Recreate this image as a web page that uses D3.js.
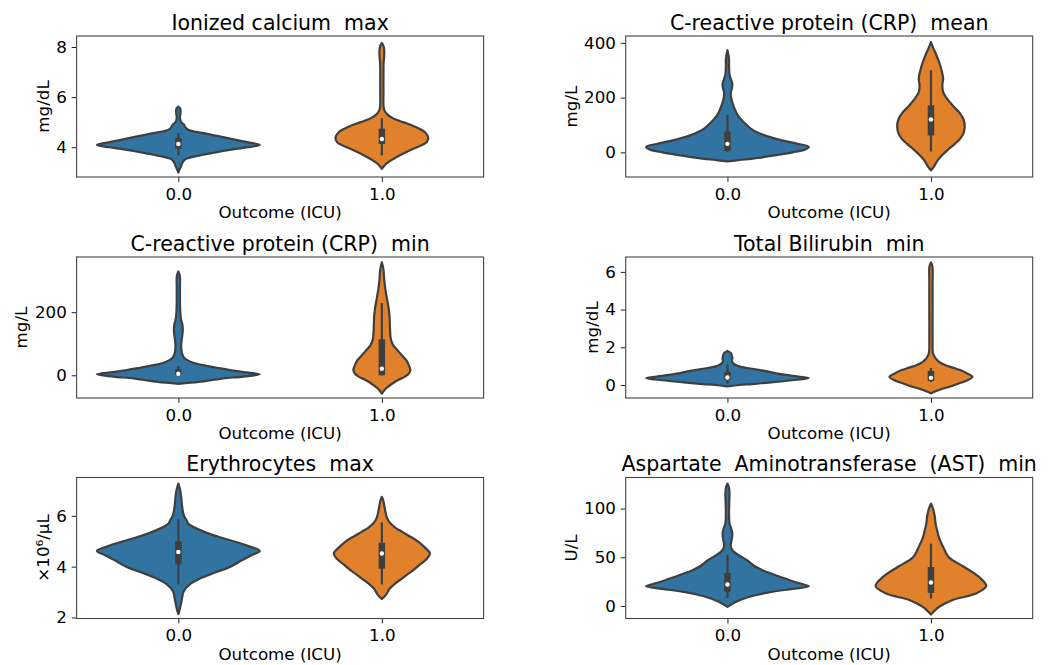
<!DOCTYPE html>
<html>
<head>
<meta charset="utf-8">
<script src="https://cdn.jsdelivr.net/npm/d3@7"></script>
<style>
  body { margin: 0; background: #fff; }
  text { font-family: "DejaVu Sans", sans-serif; fill: #000; }
</style>
</head>
<body>
<div id="chart"></div>
<script>
var width = 1054, height = 665;

// categories on the x axis
var categories = ["0.0", "1.0"];
var xTitle = "Outcome (ICU)";

// one entry per panel, reading order
var titles = ["Ionized calcium  max", "C-reactive protein (CRP)  mean",
              "C-reactive protein (CRP)  min", "Total Bilirubin  min",
              "Erythrocytes  max", "Aspartate  Aminotransferase  (AST)  min"];
var units = ["mg/dL", "mg/L", "mg/L", "mg/dL", "\u00d710\u2076/\u03bcL", "U/L"];
var yTicks = [[4, 6, 8], [0, 200, 400], [0, 200], [0, 2, 4, 6], [2, 4, 6], [0, 50, 100]];
var yLimits = [[2.81, 8.44], [-90, 425], [-72, 375], [-0.69, 6.79], [1.96, 7.51], [-12.9, 131.9]];

// violin outlines: [value, density relative to widest violin of the panel]
var caMax0 = [[2.99,0],[3.15,0.02],[3.25,0.035],[3.38,0.05],[3.51,0.08],[3.64,0.22],[3.78,0.44],[3.91,0.67],[4.0,0.85],[4.09,1.0],
              [4.21,0.83],[4.33,0.65],[4.44,0.49],[4.57,0.29],[4.7,0.12],[4.8,0.085],[4.9,0.07],[5.0,0.035],[5.15,0.02],[5.3,0.024],
              [5.45,0.028],[5.55,0.022],[5.62,0]];
var caMax1 = [[3.14,0],[3.26,0.03],[3.38,0.07],[3.51,0.13],[3.64,0.2],[3.84,0.32],[4.04,0.46],[4.2,0.55],[4.37,0.57],[4.6,0.53],
              [4.83,0.4],[5.0,0.26],[5.15,0.14],[5.3,0.07],[5.45,0.035],[5.6,0.022],[6.2,0.02],[7.0,0.02],[7.4,0.022],[7.6,0.028],
              [7.8,0.03],[7.98,0.025],[8.1,0.012],[8.16,0]];
var crpMean0 = [[-33,0],[-28,0.15],[-20,0.38],[-10,0.6],[0,0.8],[10,0.95],[20,1.0],[32,0.85],[44,0.67],[62,0.46],[86,0.29],
                [110,0.2],[134,0.13],[165,0.08],[194,0.05],[215,0.04],[235,0.055],[250,0.06],[265,0.045],[285,0.025],[313,0.02],
                [345,0.018],[373,0]];
var crpMean1 = [[-66,0],[-50,0.04],[-30,0.08],[-10,0.14],[10,0.21],[30,0.29],[50,0.36],[70,0.4],[95,0.415],[120,0.4],[145,0.35],
                [170,0.27],[195,0.2],[220,0.15],[245,0.14],[270,0.15],[300,0.13],[330,0.1],[360,0.06],[380,0.03],[403,0]];
var crpMin0 = [[-27,0],[-21,0.25],[-15,0.42],[-10,0.55],[-4,0.8],[3,1.0],[10,0.8],[17,0.62],[24,0.47],[32,0.3],[40,0.18],
               [48,0.11],[56,0.07],[70,0.045],[90,0.035],[110,0.04],[130,0.05],[145,0.055],[160,0.05],[175,0.035],[195,0.025],
               [230,0.02],[280,0.02],[315,0.018],[329,0]];
var crpMin1 = [[-58,0],[-42,0.05],[-26,0.13],[-15,0.2],[-5,0.28],[5,0.33],[16,0.35],[30,0.335],[48,0.3],[65,0.24],[80,0.19],
               [95,0.14],[115,0.11],[150,0.1],[185,0.095],[210,0.085],[240,0.065],[270,0.045],[300,0.03],[335,0.02],[358,0]];
var biliMin0 = [[-0.07,0],[0.0,0.15],[0.05,0.3],[0.14,0.54],[0.25,0.8],[0.37,1.0],[0.48,0.8],[0.6,0.62],[0.76,0.44],[0.9,0.24],
                [1.02,0.12],[1.15,0.07],[1.28,0.055],[1.4,0.06],[1.55,0.055],[1.7,0.04],[1.81,0]];
var biliMin1 = [[-0.45,0],[-0.35,0.05],[-0.19,0.15],[-0.05,0.26],[0.08,0.34],[0.25,0.45],[0.43,0.51],[0.6,0.45],[0.79,0.36],
                [0.92,0.27],[1.05,0.18],[1.2,0.11],[1.35,0.07],[1.5,0.045],[1.7,0.025],[2.5,0.02],[4,0.02],[5.5,0.02],
                [6.3,0.018],[6.5,0]];
var eryMax0 = [[2.13,0],[2.3,0.015],[2.5,0.03],[2.75,0.045],[3.02,0.065],[3.3,0.14],[3.54,0.27],[3.77,0.45],[4.0,0.64],
               [4.25,0.78],[4.45,0.9],[4.62,1.0],[4.8,0.87],[4.98,0.7],[5.15,0.52],[5.37,0.32],[5.57,0.18],[5.7,0.12],
               [5.83,0.1],[6.0,0.07],[6.15,0.057],[6.4,0.045],[6.8,0.033],[7.05,0.02],[7.27,0]];
var eryMax1 = [[2.73,0],[2.89,0.05],[3.15,0.1],[3.35,0.17],[3.54,0.25],[3.8,0.36],[4.06,0.46],[4.3,0.55],[4.52,0.59],
               [4.75,0.53],[4.98,0.45],[5.18,0.35],[5.37,0.25],[5.55,0.16],[5.76,0.09],[5.95,0.06],[6.15,0.045],[6.4,0.03],
               [6.6,0.018],[6.75,0]];
var astMin0 = [[-1,0],[4.1,0.1],[9.2,0.26],[14.4,0.54],[17.5,0.8],[20.2,1.0],[24,0.85],[28.1,0.71],[32.5,0.56],[36.7,0.43],
               [41,0.33],[47,0.24],[51,0.16],[55.5,0.08],[59,0.05],[62.3,0.04],[67,0.05],[74.3,0.06],[80,0.045],[85,0.025],
               [95,0.02],[105,0.022],[115,0.025],[121,0.02],[125.7,0]];
var astMin1 = [[-8.8,0],[-1,0.1],[5.9,0.26],[12.7,0.55],[20.5,0.68],[29.8,0.59],[40,0.41],[50,0.22],[60.6,0.15],[70,0.1],
               [78,0.075],[84.6,0.057],[90,0.05],[95,0.04],[100,0.025],[105,0]];

// inner box: [lower whisker, q1, median, q3, upper whisker]
var caMaxBox = [[3.67, 3.94, 4.13, 4.37, 4.57], [3.67, 4.13, 4.33, 4.74, 5.16]];
var crpMeanBox = [[1, 5, 31, 76, 137], [3, 62, 120, 172, 300]];
var crpMinBox = [[0, 1, 5, 20, 29], [0, 0, 21, 114, 229]];
var biliMinBox = [[0.05, 0.25, 0.4, 0.7, 1.1], [0.15, 0.22, 0.38, 0.75, 0.9]];
var eryMaxBox = [[3.3, 4.09, 4.58, 5.0, 5.87], [3.3, 3.92, 4.52, 4.94, 5.74]];
var astMinBox = [[8.2, 14.4, 22, 33.9, 52.8], [7.6, 13.4, 24, 40, 64]];

var violins = [[caMax0, caMax1], [crpMean0, crpMean1], [crpMin0, crpMin1],
               [biliMin0, biliMin1], [eryMax0, eryMax1], [astMin0, astMin1]];
var boxes = [caMaxBox, crpMeanBox, crpMinBox, biliMinBox, eryMaxBox, astMinBox];

var colors = ["#3274a1", "#e1812c"];
var gray = "#3f3f3f";

// layout of the 3x2 grid
var colX = [76.6, 625.7], axW = 407, rowY = [36, 257, 477.5], axH = 141;
var tickLen = 4.9, tickFont = 16.7, titleFont = 20.5;

var svg = d3.select("#chart").append("svg")
    .attr("width", width).attr("height", height);

titles.forEach(function(title, p) {
    var left = colX[p % 2], top = rowY[Math.floor(p / 2)];
    var g = svg.append("g").attr("transform", "translate(" + left + "," + top + ")");

    var x = d3.scalePoint().domain(categories).range([0, axW]).padding(0.5);
    var y = d3.scaleLinear().domain(yLimits[p]).range([axH, 0]);
    var half = 0.4 * x.step();

    // violins
    violins[p].forEach(function(prof, i) {
        var cx = x(categories[i]);
        var area = d3.area()
            .y(function(d) { return y(d[0]); })
            .x0(function(d) { return cx - d[1] * half; })
            .x1(function(d) { return cx + d[1] * half; })
            .curve(d3.curveCatmullRom.alpha(0.5));
        g.append("path").datum(prof)
            .attr("d", area)
            .attr("fill", colors[i])
            .attr("stroke", gray)
            .attr("stroke-width", 2.2)
            .attr("stroke-linejoin", "round");

        var b = boxes[p][i];
        g.append("line")
            .attr("x1", cx).attr("x2", cx)
            .attr("y1", y(b[0])).attr("y2", y(b[4]))
            .attr("stroke", gray).attr("stroke-width", 2.2);
        g.append("line")
            .attr("x1", cx).attr("x2", cx)
            .attr("y1", y(b[1])).attr("y2", y(b[3]))
            .attr("stroke", gray).attr("stroke-width", 6.5);
        g.append("circle")
            .attr("cx", cx).attr("cy", y(b[2]))
            .attr("r", 2.2).attr("fill", "#fff");
    });

    // axes
    var xa = g.append("g").attr("transform", "translate(0," + axH + ")")
        .call(d3.axisBottom(x).tickSize(tickLen).tickSizeOuter(0).tickPadding(6.2));
    var ya = g.append("g")
        .call(d3.axisLeft(y).tickValues(yTicks[p]).tickFormat(d3.format("~g"))
              .tickSize(tickLen).tickSizeOuter(0).tickPadding(4.9));
    [xa, ya].forEach(function(a) {
        a.select(".domain").remove();
        a.selectAll("line").attr("stroke", "#222").attr("stroke-width", 1);
        a.selectAll("text").attr("font-size", tickFont).attr("font-family", "DejaVu Sans").attr("fill", "#111");
    });

    // frame
    g.append("rect")
        .attr("x", 0).attr("y", 0).attr("width", axW).attr("height", axH)
        .attr("fill", "none").attr("stroke", "#444").attr("stroke-width", 1.1);

    // labels
    var maxW = 0;
    ya.selectAll("text").each(function() { maxW = Math.max(maxW, this.getBBox().width); });
    g.append("text")
        .attr("transform", "translate(" + (-tickLen - 4.9 - maxW - 7.5) + "," + (axH / 2) + ") rotate(-90)")
        .attr("text-anchor", "middle")
        .attr("font-size", tickFont)
        .attr("fill", "#111")
        .text(units[p]);
    g.append("text")
        .attr("x", axW / 2).attr("y", axH + 41)
        .attr("text-anchor", "middle")
        .attr("font-size", tickFont)
        .attr("fill", "#111")
        .text(xTitle);
    g.append("text")
        .attr("x", axW / 2).attr("y", -6.5)
        .attr("text-anchor", "middle")
        .attr("font-size", titleFont)
        .attr("fill", "#111")
        .style("white-space", "pre")
        .text(title);
});
</script>
</body>
</html>
